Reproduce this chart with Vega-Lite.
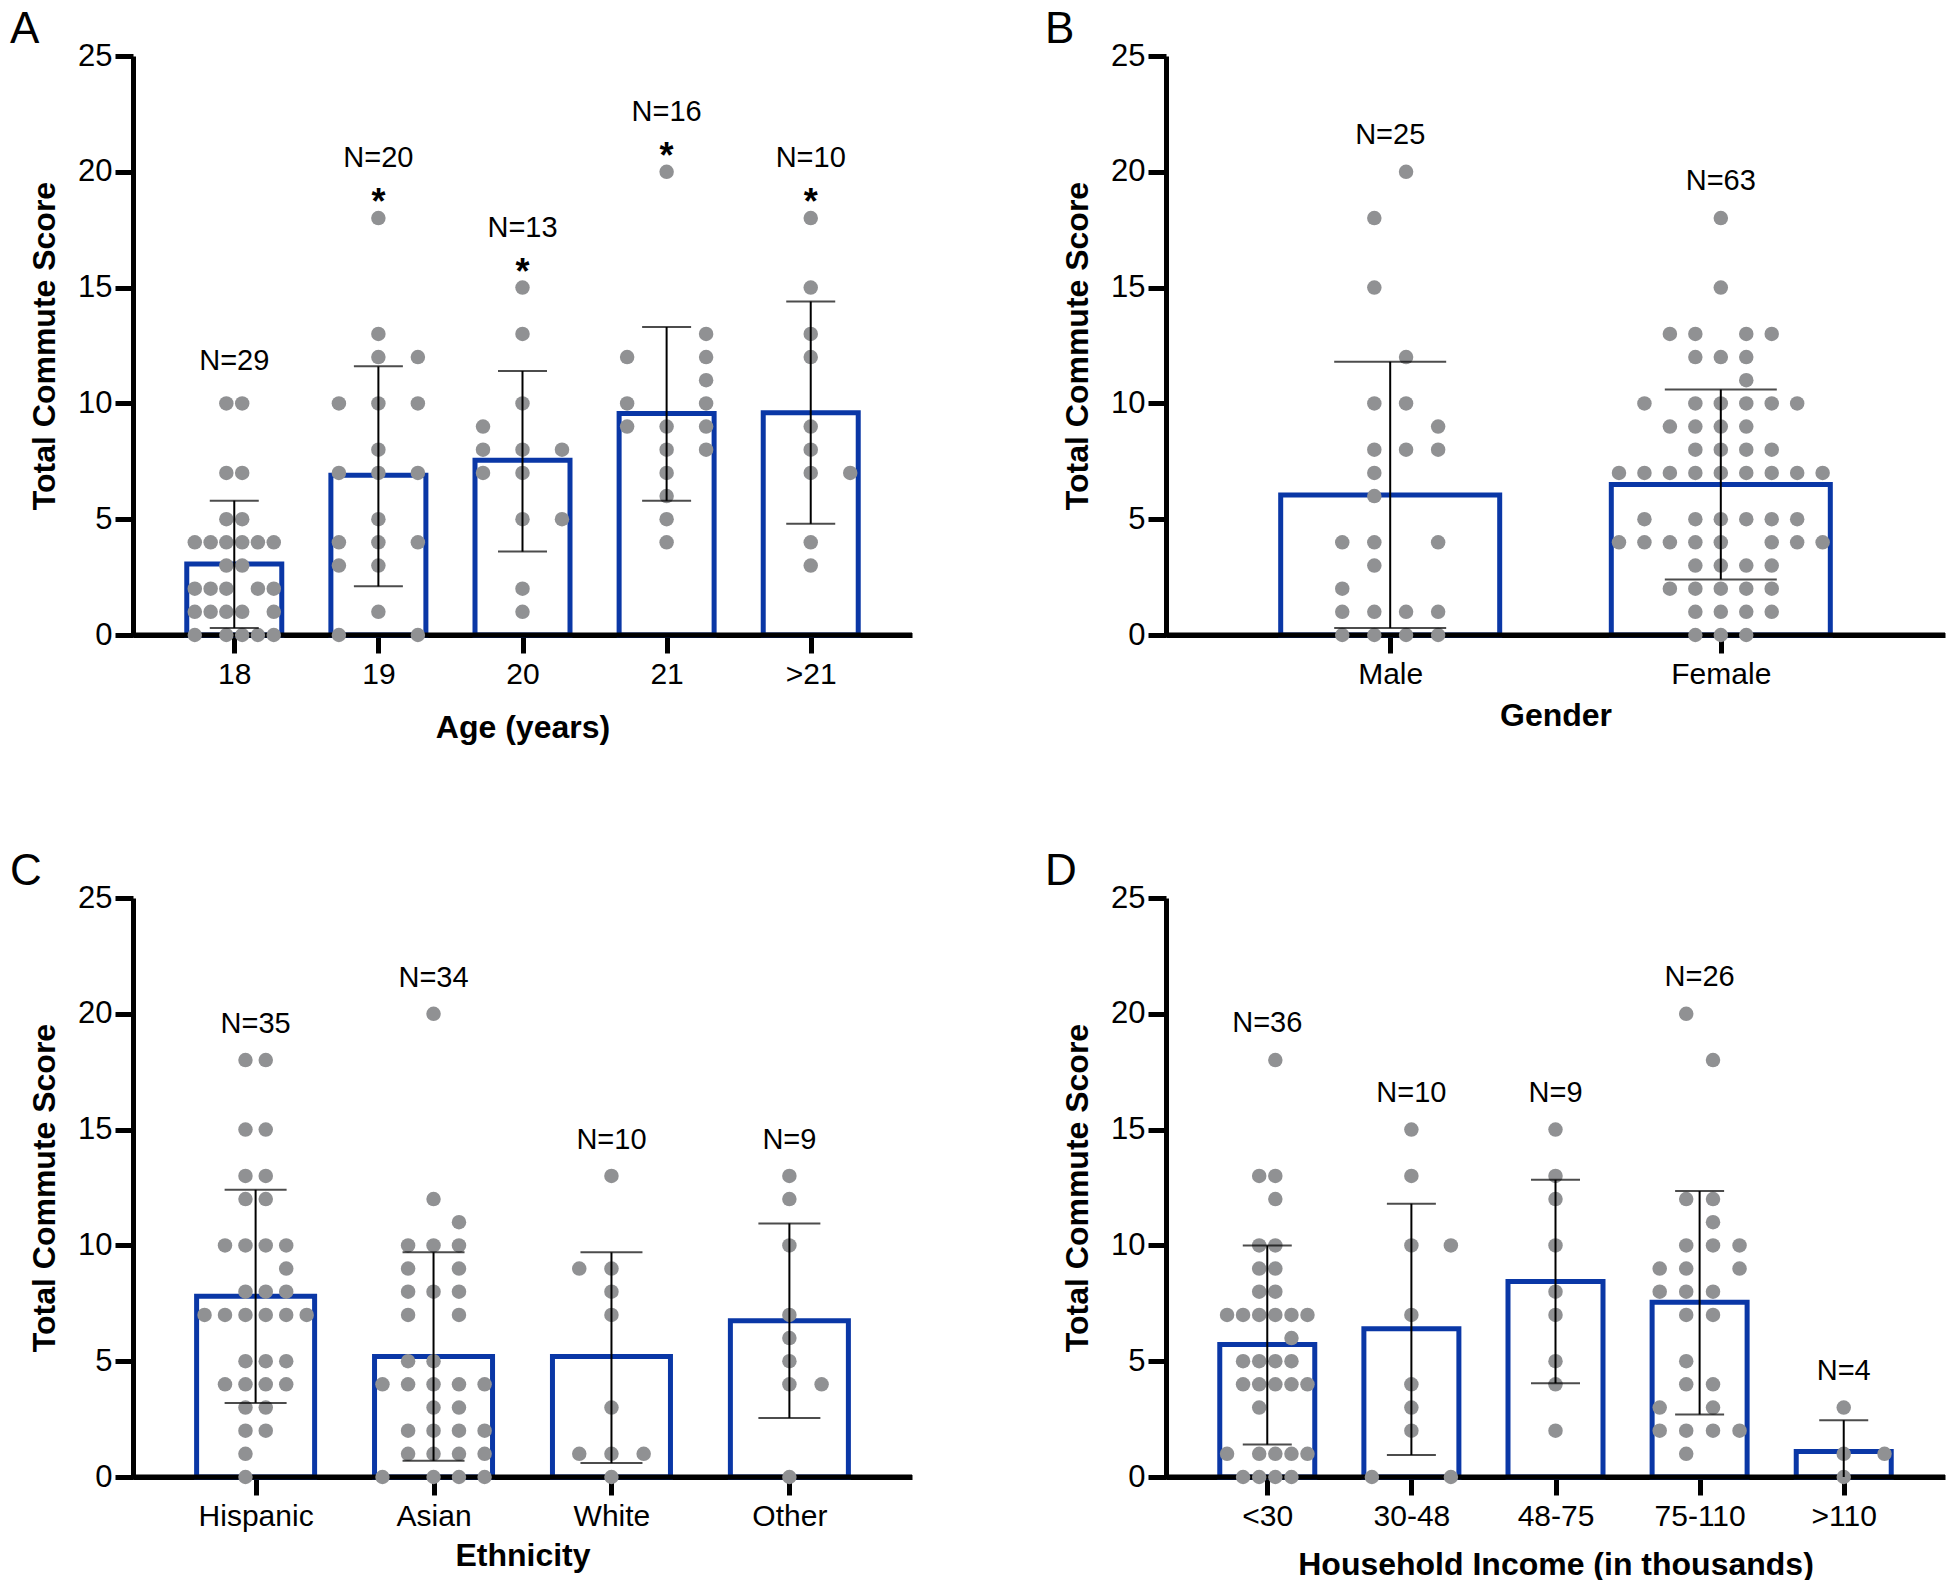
{
"$schema": "https://vega.github.io/schema/vega-lite/v6.json",
"background": "white",
"padding": {"left": 10, "top": 8, "right": 0, "bottom": 0},
"autosize": {"type": "pad"},
"config": {
  "view": {"stroke": null},
  "font": "Liberation Sans",
  "axis": {"grid": false, "domainColor": "black", "domainWidth": 5, "tickColor": "black", "tickWidth": 5, "tickSize": 18, "labelColor": "black", "labelFont": "Liberation Sans", "labelFontSize": 30, "titleColor": "black", "titleFont": "Liberation Sans", "titleFontSize": 32, "titleFontWeight": "bold", "labelOverlap": false},
  "axisX": {"labelAngle": 0, "labelPadding": 6, "labelFlush": false},
  "axisY": {"labelPadding": 3, "titlePadding": 16, "labelFontSize": 31},
  "title": {"font": "Liberation Sans", "fontSize": 44, "fontWeight": "normal", "anchor": "start", "frame": "group", "color": "black", "baseline": "alphabetic", "offset": -12}
},
"datasets": {
  "ageBars": [
    {"group": "18", "mean": 3.07, "lo": 0.3, "hi": 5.8, "max": 10, "n": "N=29", "star": ""},
    {"group": "19", "mean": 6.9, "lo": 2.1, "hi": 11.6, "max": 18, "n": "N=20", "star": "*"},
    {"group": "20", "mean": 7.54, "lo": 3.6, "hi": 11.4, "max": 15, "n": "N=13", "star": "*"},
    {"group": "21", "mean": 9.56, "lo": 5.8, "hi": 13.3, "max": 20, "n": "N=16", "star": "*"},
    {"group": ">21", "mean": 9.6, "lo": 4.8, "hi": 14.4, "max": 18, "n": "N=10", "star": "*"}
  ],
  "ageDots": [
    {"group": "18", "score": 10, "jitter": -0.055}, {"group": "18", "score": 10, "jitter": 0.055},
    {"group": "18", "score": 7, "jitter": -0.055}, {"group": "18", "score": 7, "jitter": 0.055},
    {"group": "18", "score": 5, "jitter": -0.055}, {"group": "18", "score": 5, "jitter": 0.055},
    {"group": "18", "score": 4, "jitter": -0.274}, {"group": "18", "score": 4, "jitter": -0.164}, {"group": "18", "score": 4, "jitter": -0.055}, {"group": "18", "score": 4, "jitter": 0.055}, {"group": "18", "score": 4, "jitter": 0.164}, {"group": "18", "score": 4, "jitter": 0.274},
    {"group": "18", "score": 3, "jitter": -0.055}, {"group": "18", "score": 3, "jitter": 0.055},
    {"group": "18", "score": 2, "jitter": -0.274}, {"group": "18", "score": 2, "jitter": -0.164}, {"group": "18", "score": 2, "jitter": -0.055}, {"group": "18", "score": 2, "jitter": 0.164}, {"group": "18", "score": 2, "jitter": 0.274},
    {"group": "18", "score": 1, "jitter": -0.274}, {"group": "18", "score": 1, "jitter": -0.164}, {"group": "18", "score": 1, "jitter": -0.055}, {"group": "18", "score": 1, "jitter": 0.055}, {"group": "18", "score": 1, "jitter": 0.274},
    {"group": "18", "score": 0, "jitter": -0.274}, {"group": "18", "score": 0, "jitter": -0.055}, {"group": "18", "score": 0, "jitter": 0.055}, {"group": "18", "score": 0, "jitter": 0.164}, {"group": "18", "score": 0, "jitter": 0.274},
    {"group": "19", "score": 18, "jitter": 0}, {"group": "19", "score": 13, "jitter": 0},
    {"group": "19", "score": 12, "jitter": 0}, {"group": "19", "score": 12, "jitter": 0.274},
    {"group": "19", "score": 10, "jitter": -0.274}, {"group": "19", "score": 10, "jitter": 0}, {"group": "19", "score": 10, "jitter": 0.274},
    {"group": "19", "score": 8, "jitter": 0},
    {"group": "19", "score": 7, "jitter": -0.274}, {"group": "19", "score": 7, "jitter": 0}, {"group": "19", "score": 7, "jitter": 0.274},
    {"group": "19", "score": 5, "jitter": 0},
    {"group": "19", "score": 4, "jitter": -0.274}, {"group": "19", "score": 4, "jitter": 0}, {"group": "19", "score": 4, "jitter": 0.274},
    {"group": "19", "score": 3, "jitter": -0.274}, {"group": "19", "score": 3, "jitter": 0},
    {"group": "19", "score": 1, "jitter": 0},
    {"group": "19", "score": 0, "jitter": -0.274}, {"group": "19", "score": 0, "jitter": 0.274},
    {"group": "20", "score": 15, "jitter": 0}, {"group": "20", "score": 13, "jitter": 0}, {"group": "20", "score": 10, "jitter": 0},
    {"group": "20", "score": 9, "jitter": -0.274},
    {"group": "20", "score": 8, "jitter": -0.274}, {"group": "20", "score": 8, "jitter": 0}, {"group": "20", "score": 8, "jitter": 0.274},
    {"group": "20", "score": 7, "jitter": -0.274}, {"group": "20", "score": 7, "jitter": 0},
    {"group": "20", "score": 5, "jitter": 0}, {"group": "20", "score": 5, "jitter": 0.274},
    {"group": "20", "score": 2, "jitter": 0}, {"group": "20", "score": 1, "jitter": 0},
    {"group": "21", "score": 20, "jitter": 0},
    {"group": "21", "score": 13, "jitter": 0.274},
    {"group": "21", "score": 12, "jitter": -0.274}, {"group": "21", "score": 12, "jitter": 0.274},
    {"group": "21", "score": 11, "jitter": 0.274},
    {"group": "21", "score": 10, "jitter": -0.274}, {"group": "21", "score": 10, "jitter": 0.274},
    {"group": "21", "score": 9, "jitter": -0.274}, {"group": "21", "score": 9, "jitter": 0}, {"group": "21", "score": 9, "jitter": 0.274},
    {"group": "21", "score": 8, "jitter": 0}, {"group": "21", "score": 8, "jitter": 0.274},
    {"group": "21", "score": 7, "jitter": 0}, {"group": "21", "score": 6, "jitter": 0}, {"group": "21", "score": 5, "jitter": 0}, {"group": "21", "score": 4, "jitter": 0},
    {"group": ">21", "score": 18, "jitter": 0}, {"group": ">21", "score": 15, "jitter": 0}, {"group": ">21", "score": 13, "jitter": 0}, {"group": ">21", "score": 12, "jitter": 0},
    {"group": ">21", "score": 9, "jitter": 0}, {"group": ">21", "score": 8, "jitter": 0},
    {"group": ">21", "score": 7, "jitter": 0}, {"group": ">21", "score": 7, "jitter": 0.274},
    {"group": ">21", "score": 4, "jitter": 0}, {"group": ">21", "score": 3, "jitter": 0}
  ],
  "genderBars": [
    {"group": "Male", "mean": 6.05, "lo": 0.3, "hi": 11.8, "max": 20, "n": "N=25"},
    {"group": "Female", "mean": 6.5, "lo": 2.4, "hi": 10.6, "max": 18, "n": "N=63"}
  ],
  "genderDots": [
    {"group": "Male", "score": 20, "jitter": 0.048}, {"group": "Male", "score": 18, "jitter": -0.048}, {"group": "Male", "score": 15, "jitter": -0.048}, {"group": "Male", "score": 12, "jitter": 0.048},
    {"group": "Male", "score": 10, "jitter": -0.048}, {"group": "Male", "score": 10, "jitter": 0.048},
    {"group": "Male", "score": 9, "jitter": 0.145},
    {"group": "Male", "score": 8, "jitter": -0.048}, {"group": "Male", "score": 8, "jitter": 0.048}, {"group": "Male", "score": 8, "jitter": 0.145},
    {"group": "Male", "score": 7, "jitter": -0.048}, {"group": "Male", "score": 6, "jitter": -0.048},
    {"group": "Male", "score": 4, "jitter": -0.145}, {"group": "Male", "score": 4, "jitter": -0.048}, {"group": "Male", "score": 4, "jitter": 0.145},
    {"group": "Male", "score": 3, "jitter": -0.048}, {"group": "Male", "score": 2, "jitter": -0.145},
    {"group": "Male", "score": 1, "jitter": -0.145}, {"group": "Male", "score": 1, "jitter": -0.048}, {"group": "Male", "score": 1, "jitter": 0.048}, {"group": "Male", "score": 1, "jitter": 0.145},
    {"group": "Male", "score": 0, "jitter": -0.145}, {"group": "Male", "score": 0, "jitter": -0.048}, {"group": "Male", "score": 0, "jitter": 0.048}, {"group": "Male", "score": 0, "jitter": 0.145},
    {"group": "Female", "score": 18, "jitter": 0}, {"group": "Female", "score": 15, "jitter": 0},
    {"group": "Female", "score": 13, "jitter": -0.154}, {"group": "Female", "score": 13, "jitter": -0.077}, {"group": "Female", "score": 13, "jitter": 0.077}, {"group": "Female", "score": 13, "jitter": 0.154},
    {"group": "Female", "score": 12, "jitter": -0.077}, {"group": "Female", "score": 12, "jitter": 0}, {"group": "Female", "score": 12, "jitter": 0.077},
    {"group": "Female", "score": 11, "jitter": 0.077},
    {"group": "Female", "score": 10, "jitter": -0.231}, {"group": "Female", "score": 10, "jitter": -0.077}, {"group": "Female", "score": 10, "jitter": 0}, {"group": "Female", "score": 10, "jitter": 0.077}, {"group": "Female", "score": 10, "jitter": 0.154}, {"group": "Female", "score": 10, "jitter": 0.231},
    {"group": "Female", "score": 9, "jitter": -0.154}, {"group": "Female", "score": 9, "jitter": -0.077}, {"group": "Female", "score": 9, "jitter": 0}, {"group": "Female", "score": 9, "jitter": 0.077},
    {"group": "Female", "score": 8, "jitter": -0.077}, {"group": "Female", "score": 8, "jitter": 0}, {"group": "Female", "score": 8, "jitter": 0.077}, {"group": "Female", "score": 8, "jitter": 0.154},
    {"group": "Female", "score": 7, "jitter": -0.308}, {"group": "Female", "score": 7, "jitter": -0.231}, {"group": "Female", "score": 7, "jitter": -0.154}, {"group": "Female", "score": 7, "jitter": -0.077}, {"group": "Female", "score": 7, "jitter": 0}, {"group": "Female", "score": 7, "jitter": 0.077}, {"group": "Female", "score": 7, "jitter": 0.154}, {"group": "Female", "score": 7, "jitter": 0.231}, {"group": "Female", "score": 7, "jitter": 0.308},
    {"group": "Female", "score": 5, "jitter": -0.231}, {"group": "Female", "score": 5, "jitter": -0.077}, {"group": "Female", "score": 5, "jitter": 0}, {"group": "Female", "score": 5, "jitter": 0.077}, {"group": "Female", "score": 5, "jitter": 0.154}, {"group": "Female", "score": 5, "jitter": 0.231},
    {"group": "Female", "score": 4, "jitter": -0.308}, {"group": "Female", "score": 4, "jitter": -0.231}, {"group": "Female", "score": 4, "jitter": -0.154}, {"group": "Female", "score": 4, "jitter": -0.077}, {"group": "Female", "score": 4, "jitter": 0}, {"group": "Female", "score": 4, "jitter": 0.154}, {"group": "Female", "score": 4, "jitter": 0.231}, {"group": "Female", "score": 4, "jitter": 0.308},
    {"group": "Female", "score": 3, "jitter": -0.077}, {"group": "Female", "score": 3, "jitter": 0}, {"group": "Female", "score": 3, "jitter": 0.077}, {"group": "Female", "score": 3, "jitter": 0.154},
    {"group": "Female", "score": 2, "jitter": -0.154}, {"group": "Female", "score": 2, "jitter": -0.077}, {"group": "Female", "score": 2, "jitter": 0}, {"group": "Female", "score": 2, "jitter": 0.077}, {"group": "Female", "score": 2, "jitter": 0.154},
    {"group": "Female", "score": 1, "jitter": -0.077}, {"group": "Female", "score": 1, "jitter": 0}, {"group": "Female", "score": 1, "jitter": 0.077}, {"group": "Female", "score": 1, "jitter": 0.154},
    {"group": "Female", "score": 0, "jitter": -0.077}, {"group": "Female", "score": 0, "jitter": 0}, {"group": "Female", "score": 0, "jitter": 0.077}
  ],
  "ethBars": [
    {"group": "Hispanic", "mean": 7.8, "lo": 3.2, "hi": 12.4, "max": 18, "n": "N=35"},
    {"group": "Asian", "mean": 5.2, "lo": 0.7, "hi": 9.7, "max": 20, "n": "N=34"},
    {"group": "White", "mean": 5.2, "lo": 0.6, "hi": 9.7, "max": 13, "n": "N=10"},
    {"group": "Other", "mean": 6.75, "lo": 2.55, "hi": 10.95, "max": 13, "n": "N=9"}
  ],
  "ethDots": [
    {"group": "Hispanic", "score": 18, "jitter": -0.057}, {"group": "Hispanic", "score": 18, "jitter": 0.057},
    {"group": "Hispanic", "score": 15, "jitter": -0.057}, {"group": "Hispanic", "score": 15, "jitter": 0.057},
    {"group": "Hispanic", "score": 13, "jitter": -0.057}, {"group": "Hispanic", "score": 13, "jitter": 0.057},
    {"group": "Hispanic", "score": 12, "jitter": -0.057}, {"group": "Hispanic", "score": 12, "jitter": 0.057},
    {"group": "Hispanic", "score": 10, "jitter": -0.172}, {"group": "Hispanic", "score": 10, "jitter": -0.057}, {"group": "Hispanic", "score": 10, "jitter": 0.057}, {"group": "Hispanic", "score": 10, "jitter": 0.172},
    {"group": "Hispanic", "score": 9, "jitter": 0.172},
    {"group": "Hispanic", "score": 8, "jitter": -0.057}, {"group": "Hispanic", "score": 8, "jitter": 0.057}, {"group": "Hispanic", "score": 8, "jitter": 0.172},
    {"group": "Hispanic", "score": 7, "jitter": -0.287}, {"group": "Hispanic", "score": 7, "jitter": -0.172}, {"group": "Hispanic", "score": 7, "jitter": -0.057}, {"group": "Hispanic", "score": 7, "jitter": 0.057}, {"group": "Hispanic", "score": 7, "jitter": 0.172}, {"group": "Hispanic", "score": 7, "jitter": 0.287},
    {"group": "Hispanic", "score": 5, "jitter": -0.057}, {"group": "Hispanic", "score": 5, "jitter": 0.057}, {"group": "Hispanic", "score": 5, "jitter": 0.172},
    {"group": "Hispanic", "score": 4, "jitter": -0.172}, {"group": "Hispanic", "score": 4, "jitter": -0.057}, {"group": "Hispanic", "score": 4, "jitter": 0.057}, {"group": "Hispanic", "score": 4, "jitter": 0.172},
    {"group": "Hispanic", "score": 3, "jitter": -0.057}, {"group": "Hispanic", "score": 3, "jitter": 0.057},
    {"group": "Hispanic", "score": 2, "jitter": -0.057}, {"group": "Hispanic", "score": 2, "jitter": 0.057},
    {"group": "Hispanic", "score": 1, "jitter": -0.057}, {"group": "Hispanic", "score": 0, "jitter": -0.057},
    {"group": "Asian", "score": 20, "jitter": 0}, {"group": "Asian", "score": 12, "jitter": 0}, {"group": "Asian", "score": 11, "jitter": 0.143},
    {"group": "Asian", "score": 10, "jitter": -0.143}, {"group": "Asian", "score": 10, "jitter": 0}, {"group": "Asian", "score": 10, "jitter": 0.143},
    {"group": "Asian", "score": 9, "jitter": -0.143}, {"group": "Asian", "score": 9, "jitter": 0.143},
    {"group": "Asian", "score": 8, "jitter": -0.143}, {"group": "Asian", "score": 8, "jitter": 0}, {"group": "Asian", "score": 8, "jitter": 0.143},
    {"group": "Asian", "score": 7, "jitter": -0.143}, {"group": "Asian", "score": 7, "jitter": 0.143},
    {"group": "Asian", "score": 5, "jitter": -0.143}, {"group": "Asian", "score": 5, "jitter": 0},
    {"group": "Asian", "score": 4, "jitter": -0.287}, {"group": "Asian", "score": 4, "jitter": -0.143}, {"group": "Asian", "score": 4, "jitter": 0}, {"group": "Asian", "score": 4, "jitter": 0.143}, {"group": "Asian", "score": 4, "jitter": 0.287},
    {"group": "Asian", "score": 3, "jitter": 0}, {"group": "Asian", "score": 3, "jitter": 0.143},
    {"group": "Asian", "score": 2, "jitter": -0.143}, {"group": "Asian", "score": 2, "jitter": 0}, {"group": "Asian", "score": 2, "jitter": 0.143}, {"group": "Asian", "score": 2, "jitter": 0.287},
    {"group": "Asian", "score": 1, "jitter": -0.143}, {"group": "Asian", "score": 1, "jitter": 0}, {"group": "Asian", "score": 1, "jitter": 0.143}, {"group": "Asian", "score": 1, "jitter": 0.287},
    {"group": "Asian", "score": 0, "jitter": -0.287}, {"group": "Asian", "score": 0, "jitter": 0}, {"group": "Asian", "score": 0, "jitter": 0.143}, {"group": "Asian", "score": 0, "jitter": 0.287},
    {"group": "White", "score": 13, "jitter": 0}, {"group": "White", "score": 9, "jitter": -0.181}, {"group": "White", "score": 9, "jitter": 0},
    {"group": "White", "score": 8, "jitter": 0}, {"group": "White", "score": 7, "jitter": 0}, {"group": "White", "score": 3, "jitter": 0},
    {"group": "White", "score": 1, "jitter": -0.181}, {"group": "White", "score": 1, "jitter": 0}, {"group": "White", "score": 1, "jitter": 0.181},
    {"group": "White", "score": 0, "jitter": 0},
    {"group": "Other", "score": 13, "jitter": 0}, {"group": "Other", "score": 12, "jitter": 0}, {"group": "Other", "score": 10, "jitter": 0},
    {"group": "Other", "score": 7, "jitter": 0}, {"group": "Other", "score": 6, "jitter": 0}, {"group": "Other", "score": 5, "jitter": 0},
    {"group": "Other", "score": 4, "jitter": 0}, {"group": "Other", "score": 4, "jitter": 0.181}, {"group": "Other", "score": 0, "jitter": 0}
  ],
  "incBars": [
    {"group": "<30", "mean": 5.72, "lo": 1.4, "hi": 10.0, "max": 18, "n": "N=36"},
    {"group": "30-48", "mean": 6.4, "lo": 0.95, "hi": 11.8, "max": 15, "n": "N=10"},
    {"group": "48-75", "mean": 8.44, "lo": 4.05, "hi": 12.83, "max": 15, "n": "N=9"},
    {"group": "75-110", "mean": 7.54, "lo": 2.7, "hi": 12.35, "max": 20, "n": "N=26"},
    {"group": ">110", "mean": 1.1, "lo": 0, "hi": 2.45, "max": 3, "n": "N=4"}
  ],
  "incDots": [
    {"group": "<30", "score": 18, "jitter": 0.056},
    {"group": "<30", "score": 13, "jitter": -0.056}, {"group": "<30", "score": 13, "jitter": 0.056},
    {"group": "<30", "score": 12, "jitter": 0.056},
    {"group": "<30", "score": 10, "jitter": -0.056}, {"group": "<30", "score": 10, "jitter": 0.056},
    {"group": "<30", "score": 9, "jitter": -0.056}, {"group": "<30", "score": 9, "jitter": 0.056},
    {"group": "<30", "score": 8, "jitter": -0.056}, {"group": "<30", "score": 8, "jitter": 0.056},
    {"group": "<30", "score": 7, "jitter": -0.279}, {"group": "<30", "score": 7, "jitter": -0.168}, {"group": "<30", "score": 7, "jitter": -0.056}, {"group": "<30", "score": 7, "jitter": 0.056}, {"group": "<30", "score": 7, "jitter": 0.168}, {"group": "<30", "score": 7, "jitter": 0.279},
    {"group": "<30", "score": 6, "jitter": 0.168},
    {"group": "<30", "score": 5, "jitter": -0.168}, {"group": "<30", "score": 5, "jitter": -0.056}, {"group": "<30", "score": 5, "jitter": 0.056}, {"group": "<30", "score": 5, "jitter": 0.168},
    {"group": "<30", "score": 4, "jitter": -0.168}, {"group": "<30", "score": 4, "jitter": -0.056}, {"group": "<30", "score": 4, "jitter": 0.056}, {"group": "<30", "score": 4, "jitter": 0.168}, {"group": "<30", "score": 4, "jitter": 0.279},
    {"group": "<30", "score": 3, "jitter": -0.056},
    {"group": "<30", "score": 1, "jitter": -0.279}, {"group": "<30", "score": 1, "jitter": -0.056}, {"group": "<30", "score": 1, "jitter": 0.056}, {"group": "<30", "score": 1, "jitter": 0.168}, {"group": "<30", "score": 1, "jitter": 0.279},
    {"group": "<30", "score": 0, "jitter": -0.168}, {"group": "<30", "score": 0, "jitter": -0.056}, {"group": "<30", "score": 0, "jitter": 0.056}, {"group": "<30", "score": 0, "jitter": 0.168},
    {"group": "30-48", "score": 15, "jitter": 0}, {"group": "30-48", "score": 13, "jitter": 0},
    {"group": "30-48", "score": 10, "jitter": 0}, {"group": "30-48", "score": 10, "jitter": 0.274},
    {"group": "30-48", "score": 7, "jitter": 0}, {"group": "30-48", "score": 4, "jitter": 0}, {"group": "30-48", "score": 3, "jitter": 0}, {"group": "30-48", "score": 2, "jitter": 0},
    {"group": "30-48", "score": 0, "jitter": -0.274}, {"group": "30-48", "score": 0, "jitter": 0.274},
    {"group": "48-75", "score": 15, "jitter": 0}, {"group": "48-75", "score": 13, "jitter": 0}, {"group": "48-75", "score": 12, "jitter": 0},
    {"group": "48-75", "score": 10, "jitter": 0}, {"group": "48-75", "score": 8, "jitter": 0}, {"group": "48-75", "score": 7, "jitter": 0},
    {"group": "48-75", "score": 5, "jitter": 0}, {"group": "48-75", "score": 4, "jitter": 0}, {"group": "48-75", "score": 2, "jitter": 0},
    {"group": "75-110", "score": 20, "jitter": -0.093}, {"group": "75-110", "score": 18, "jitter": 0.093},
    {"group": "75-110", "score": 12, "jitter": -0.093}, {"group": "75-110", "score": 12, "jitter": 0.093},
    {"group": "75-110", "score": 11, "jitter": 0.093},
    {"group": "75-110", "score": 10, "jitter": -0.093}, {"group": "75-110", "score": 10, "jitter": 0.093}, {"group": "75-110", "score": 10, "jitter": 0.277},
    {"group": "75-110", "score": 9, "jitter": -0.277}, {"group": "75-110", "score": 9, "jitter": -0.093}, {"group": "75-110", "score": 9, "jitter": 0.277},
    {"group": "75-110", "score": 8, "jitter": -0.277}, {"group": "75-110", "score": 8, "jitter": -0.093}, {"group": "75-110", "score": 8, "jitter": 0.093},
    {"group": "75-110", "score": 7, "jitter": -0.093}, {"group": "75-110", "score": 7, "jitter": 0.093},
    {"group": "75-110", "score": 5, "jitter": -0.093},
    {"group": "75-110", "score": 4, "jitter": -0.093}, {"group": "75-110", "score": 4, "jitter": 0.093},
    {"group": "75-110", "score": 3, "jitter": -0.277}, {"group": "75-110", "score": 3, "jitter": 0.093},
    {"group": "75-110", "score": 2, "jitter": -0.277}, {"group": "75-110", "score": 2, "jitter": -0.093}, {"group": "75-110", "score": 2, "jitter": 0.093}, {"group": "75-110", "score": 2, "jitter": 0.277},
    {"group": "75-110", "score": 1, "jitter": -0.093},
    {"group": ">110", "score": 3, "jitter": 0}, {"group": ">110", "score": 1, "jitter": 0}, {"group": ">110", "score": 1, "jitter": 0.283}, {"group": ">110", "score": 0, "jitter": 0}
  ]
},
"spacing": 107,
"vconcat": [
  {"spacing": 130, "hconcat": [
    {"width": 779, "height": 579, "title": {"text": "A", "dx": -123},
     "layer": [
      {"data": {"name": "ageBars"}, "transform": [{"calculate": "indexof(['18','19','20','21','>21'], datum.group) + 1", "as": "pos"}],
       "mark": {"type": "bar", "orient": "vertical", "width": 95, "fill": "white", "stroke": "#0a37a6", "strokeWidth": 5},
       "encoding": {"x": {"field": "pos", "type": "quantitative", "title": "Age (years)", "scale": {"domain": [0.332, 5.668], "nice": false, "zero": false}, "axis": {"values": [1, 2, 3, 4, 5], "labelExpr": "['18','19','20','21','>21'][datum.value - 1]", "titlePadding": 23}},
                    "y": {"field": "mean", "type": "quantitative", "title": "Total Commute Score", "scale": {"domain": [0, 25], "nice": false}, "axis": {"values": [0, 5, 10, 15, 20, 25]}}}},
      {"data": {"values": [{}]}, "mark": {"type": "rule", "color": "black", "strokeWidth": 5}, "encoding": {"y": {"datum": 0}}},
      {"data": {"name": "ageDots"}, "transform": [{"calculate": "indexof(['18','19','20','21','>21'], datum.group) + 1 + datum.jitter", "as": "xp"}],
       "mark": {"type": "circle", "size": 210, "color": "#909193", "opacity": 1},
       "encoding": {"x": {"field": "xp", "type": "quantitative", "title": "Age (years)"}, "y": {"field": "score", "type": "quantitative", "title": "Total Commute Score"}}},
      {"data": {"name": "ageBars"}, "transform": [{"calculate": "indexof(['18','19','20','21','>21'], datum.group) + 1", "as": "pos"}],
       "layer": [
        {"mark": {"type": "rule", "color": "black", "strokeWidth": 2},
         "encoding": {"x": {"field": "pos", "type": "quantitative", "title": "Age (years)"}, "y": {"field": "lo", "type": "quantitative", "title": "Total Commute Score"}, "y2": {"field": "hi"}}},
        {"mark": {"type": "tick", "orient": "horizontal", "color": "black", "thickness": 2, "size": 49},
         "encoding": {"x": {"field": "pos", "type": "quantitative", "title": "Age (years)"}, "y": {"field": "lo", "type": "quantitative", "title": "Total Commute Score"}}},
        {"mark": {"type": "tick", "orient": "horizontal", "color": "black", "thickness": 2, "size": 49},
         "encoding": {"x": {"field": "pos", "type": "quantitative", "title": "Age (years)"}, "y": {"field": "hi", "type": "quantitative", "title": "Total Commute Score"}}},
        {"transform": [{"filter": "datum.star == ''"}], "mark": {"type": "text", "fontSize": 29, "dy": -42, "baseline": "middle", "color": "black"},
         "encoding": {"x": {"field": "pos", "type": "quantitative", "title": "Age (years)"}, "y": {"field": "max", "type": "quantitative", "title": "Total Commute Score"}, "text": {"field": "n"}}},
        {"transform": [{"filter": "datum.star != ''"}], "mark": {"type": "text", "fontSize": 29, "dy": -60, "baseline": "middle", "color": "black"},
         "encoding": {"x": {"field": "pos", "type": "quantitative", "title": "Age (years)"}, "y": {"field": "max", "type": "quantitative", "title": "Total Commute Score"}, "text": {"field": "n"}}},
        {"transform": [{"filter": "datum.star != ''"}], "mark": {"type": "text", "fontSize": 36, "fontWeight": "bold", "dy": -4, "baseline": "alphabetic", "color": "black"},
         "encoding": {"x": {"field": "pos", "type": "quantitative", "title": "Age (years)"}, "y": {"field": "max", "type": "quantitative", "title": "Total Commute Score"}, "text": {"field": "star"}}}
       ]}
     ]},
    {"width": 779, "height": 579, "title": {"text": "B", "dx": -121},
     "layer": [
      {"data": {"name": "genderBars"}, "transform": [{"calculate": "indexof(['Male','Female'], datum.group) + 1", "as": "pos"}],
       "mark": {"type": "bar", "orient": "vertical", "width": 219, "fill": "white", "stroke": "#0a37a6", "strokeWidth": 5},
       "encoding": {"x": {"field": "pos", "type": "quantitative", "title": "Gender", "scale": {"domain": [0.337, 2.663], "nice": false, "zero": false}, "axis": {"values": [1, 2], "labelExpr": "['Male','Female'][datum.value - 1]", "titlePadding": 11}},
                    "y": {"field": "mean", "type": "quantitative", "title": "Total Commute Score", "scale": {"domain": [0, 25], "nice": false}, "axis": {"values": [0, 5, 10, 15, 20, 25]}}}},
      {"data": {"values": [{}]}, "mark": {"type": "rule", "color": "black", "strokeWidth": 5}, "encoding": {"y": {"datum": 0}}},
      {"data": {"name": "genderDots"}, "transform": [{"calculate": "indexof(['Male','Female'], datum.group) + 1 + datum.jitter", "as": "xp"}],
       "mark": {"type": "circle", "size": 210, "color": "#909193", "opacity": 1},
       "encoding": {"x": {"field": "xp", "type": "quantitative", "title": "Gender"}, "y": {"field": "score", "type": "quantitative", "title": "Total Commute Score"}}},
      {"data": {"name": "genderBars"}, "transform": [{"calculate": "indexof(['Male','Female'], datum.group) + 1", "as": "pos"}],
       "layer": [
        {"mark": {"type": "rule", "color": "black", "strokeWidth": 2},
         "encoding": {"x": {"field": "pos", "type": "quantitative", "title": "Gender"}, "y": {"field": "lo", "type": "quantitative", "title": "Total Commute Score"}, "y2": {"field": "hi"}}},
        {"mark": {"type": "tick", "orient": "horizontal", "color": "black", "thickness": 2, "size": 112},
         "encoding": {"x": {"field": "pos", "type": "quantitative", "title": "Gender"}, "y": {"field": "lo", "type": "quantitative", "title": "Total Commute Score"}}},
        {"mark": {"type": "tick", "orient": "horizontal", "color": "black", "thickness": 2, "size": 112},
         "encoding": {"x": {"field": "pos", "type": "quantitative", "title": "Gender"}, "y": {"field": "hi", "type": "quantitative", "title": "Total Commute Score"}}},
        {"mark": {"type": "text", "fontSize": 29, "dy": -37, "baseline": "middle", "color": "black"},
         "encoding": {"x": {"field": "pos", "type": "quantitative", "title": "Gender"}, "y": {"field": "max", "type": "quantitative", "title": "Total Commute Score"}, "text": {"field": "n"}}}
       ]}
     ]}
  ]},
  {"spacing": 130, "hconcat": [
    {"width": 779, "height": 579, "title": {"text": "C", "dx": -123},
     "layer": [
      {"data": {"name": "ethBars"}, "transform": [{"calculate": "indexof(['Hispanic','Asian','White','Other'], datum.group) + 1", "as": "pos"}],
       "mark": {"type": "bar", "orient": "vertical", "width": 118, "fill": "white", "stroke": "#0a37a6", "strokeWidth": 5},
       "encoding": {"x": {"field": "pos", "type": "quantitative", "title": "Ethnicity", "scale": {"domain": [0.339, 4.661], "nice": false, "zero": false}, "axis": {"values": [1, 2, 3, 4], "labelExpr": "['Hispanic','Asian','White','Other'][datum.value - 1]", "titlePadding": 9}},
                    "y": {"field": "mean", "type": "quantitative", "title": "Total Commute Score", "scale": {"domain": [0, 25], "nice": false}, "axis": {"values": [0, 5, 10, 15, 20, 25]}}}},
      {"data": {"values": [{}]}, "mark": {"type": "rule", "color": "black", "strokeWidth": 5}, "encoding": {"y": {"datum": 0}}},
      {"data": {"name": "ethDots"}, "transform": [{"calculate": "indexof(['Hispanic','Asian','White','Other'], datum.group) + 1 + datum.jitter", "as": "xp"}],
       "mark": {"type": "circle", "size": 210, "color": "#909193", "opacity": 1},
       "encoding": {"x": {"field": "xp", "type": "quantitative", "title": "Ethnicity"}, "y": {"field": "score", "type": "quantitative", "title": "Total Commute Score"}}},
      {"data": {"name": "ethBars"}, "transform": [{"calculate": "indexof(['Hispanic','Asian','White','Other'], datum.group) + 1", "as": "pos"}],
       "layer": [
        {"mark": {"type": "rule", "color": "black", "strokeWidth": 2},
         "encoding": {"x": {"field": "pos", "type": "quantitative", "title": "Ethnicity"}, "y": {"field": "lo", "type": "quantitative", "title": "Total Commute Score"}, "y2": {"field": "hi"}}},
        {"mark": {"type": "tick", "orient": "horizontal", "color": "black", "thickness": 2, "size": 62},
         "encoding": {"x": {"field": "pos", "type": "quantitative", "title": "Ethnicity"}, "y": {"field": "lo", "type": "quantitative", "title": "Total Commute Score"}}},
        {"mark": {"type": "tick", "orient": "horizontal", "color": "black", "thickness": 2, "size": 62},
         "encoding": {"x": {"field": "pos", "type": "quantitative", "title": "Ethnicity"}, "y": {"field": "hi", "type": "quantitative", "title": "Total Commute Score"}}},
        {"mark": {"type": "text", "fontSize": 29, "dy": -36, "baseline": "middle", "color": "black"},
         "encoding": {"x": {"field": "pos", "type": "quantitative", "title": "Ethnicity"}, "y": {"field": "max", "type": "quantitative", "title": "Total Commute Score"}, "text": {"field": "n"}}}
       ]}
     ]},
    {"width": 779, "height": 579, "title": {"text": "D", "dx": -121},
     "layer": [
      {"data": {"name": "incBars"}, "transform": [{"calculate": "indexof(['<30','30-48','48-75','75-110','>110'], datum.group) + 1", "as": "pos"}],
       "mark": {"type": "bar", "orient": "vertical", "width": 95, "fill": "white", "stroke": "#0a37a6", "strokeWidth": 5},
       "encoding": {"x": {"field": "pos", "type": "quantitative", "title": "Household Income (in thousands)", "scale": {"domain": [0.332, 5.668], "nice": false, "zero": false}, "axis": {"values": [1, 2, 3, 4, 5], "labelExpr": "['<30','30-48','48-75','75-110','>110'][datum.value - 1]", "titlePadding": 18}},
                    "y": {"field": "mean", "type": "quantitative", "title": "Total Commute Score", "scale": {"domain": [0, 25], "nice": false}, "axis": {"values": [0, 5, 10, 15, 20, 25]}}}},
      {"data": {"values": [{}]}, "mark": {"type": "rule", "color": "black", "strokeWidth": 5}, "encoding": {"y": {"datum": 0}}},
      {"data": {"name": "incDots"}, "transform": [{"calculate": "indexof(['<30','30-48','48-75','75-110','>110'], datum.group) + 1 + datum.jitter", "as": "xp"}],
       "mark": {"type": "circle", "size": 210, "color": "#909193", "opacity": 1},
       "encoding": {"x": {"field": "xp", "type": "quantitative", "title": "Household Income (in thousands)"}, "y": {"field": "score", "type": "quantitative", "title": "Total Commute Score"}}},
      {"data": {"name": "incBars"}, "transform": [{"calculate": "indexof(['<30','30-48','48-75','75-110','>110'], datum.group) + 1", "as": "pos"}],
       "layer": [
        {"mark": {"type": "rule", "color": "black", "strokeWidth": 2},
         "encoding": {"x": {"field": "pos", "type": "quantitative", "title": "Household Income (in thousands)"}, "y": {"field": "lo", "type": "quantitative", "title": "Total Commute Score"}, "y2": {"field": "hi"}}},
        {"transform": [{"filter": "datum.lo > 0"}], "mark": {"type": "tick", "orient": "horizontal", "color": "black", "thickness": 2, "size": 49},
         "encoding": {"x": {"field": "pos", "type": "quantitative", "title": "Household Income (in thousands)"}, "y": {"field": "lo", "type": "quantitative", "title": "Total Commute Score"}}},
        {"mark": {"type": "tick", "orient": "horizontal", "color": "black", "thickness": 2, "size": 49},
         "encoding": {"x": {"field": "pos", "type": "quantitative", "title": "Household Income (in thousands)"}, "y": {"field": "hi", "type": "quantitative", "title": "Total Commute Score"}}},
        {"mark": {"type": "text", "fontSize": 29, "dy": -37, "baseline": "middle", "color": "black"},
         "encoding": {"x": {"field": "pos", "type": "quantitative", "title": "Household Income (in thousands)"}, "y": {"field": "max", "type": "quantitative", "title": "Total Commute Score"}, "text": {"field": "n"}}}
       ]}
     ]}
  ]}
]
}
